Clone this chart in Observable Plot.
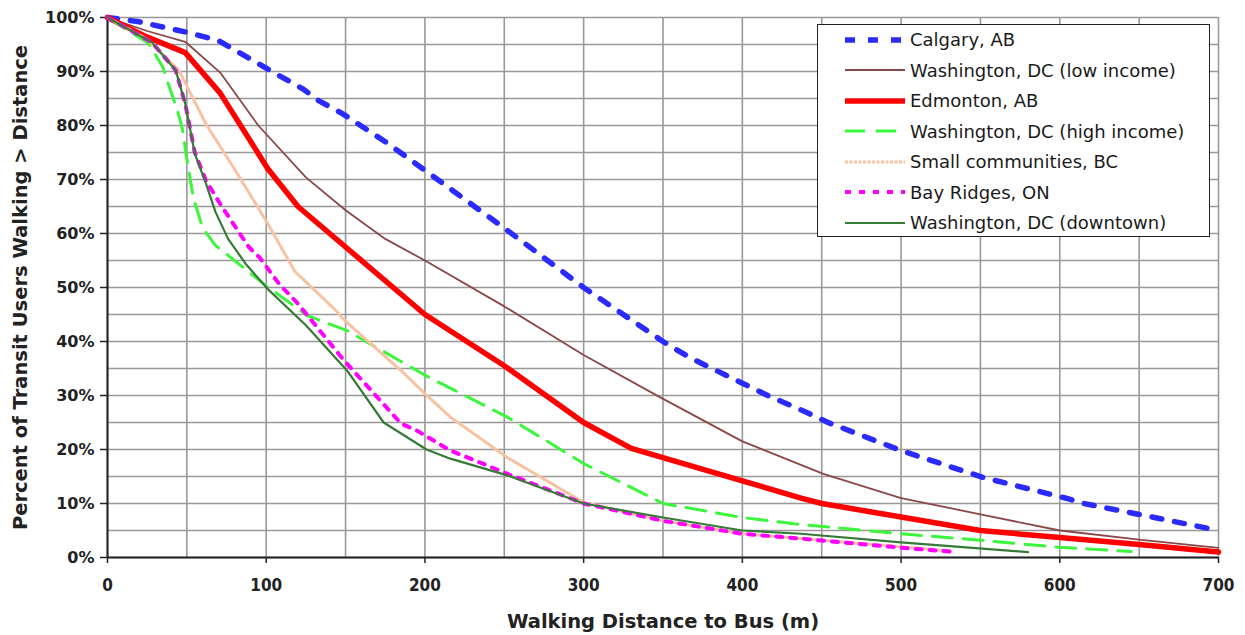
<!DOCTYPE html>
<html><head><meta charset="utf-8">
<script src="https://cdn.jsdelivr.net/npm/d3@7"></script>
<script src="https://cdn.jsdelivr.net/npm/@observablehq/plot@0.6"></script>
<style>
html,body{margin:0;padding:0;background:#fff;overflow:hidden}
#wrap{position:relative;width:1245px;height:635px}
#legend{position:absolute;left:817px;top:24px;width:391px;height:211px;border:1.5px solid #222;background:#fff;font-family:"DejaVu Sans";font-size:18px;color:#1a1a1a}
.row{position:absolute;left:0;height:30px;display:flex;align-items:center;white-space:nowrap}
.row svg{margin-left:27px;margin-right:5px}
</style></head>
<body><div id="wrap"><div id="legend"></div></div>
<script>
// ---- data ----
const seriesNames = ["Calgary, AB","Washington, DC (low income)","Edmonton, AB","Washington, DC (high income)","Small communities, BC","Bay Ridges, ON","Washington, DC (downtown)"];

const calgaryDist = [0,20,37,51,70,92,106,123,133,148,175,200,250,300,350,367,416,435,454,500,552,605,615,653,700];
const calgaryPct  = [100,99.2,98.1,97.2,95.7,92,89.6,86.8,84.6,82.2,77,71.7,61,50,40,37,30,27.6,25,19.8,14.8,10.9,10,7.8,5];

const lowIncDist = [0,25,49,71,95,125,150,175,200,250,300,348,400,451,500,550,600,650,700];
const lowIncPct  = [100,97.5,95.5,89.8,80,70.4,64.3,59,55,46.5,37.5,29.7,21.5,15.5,11,8,5,3.3,1.8];

const edmDist = [0,24,49,71,101,120,150,200,250,300,330,400,437,450,500,550,600,650,700];
const edmPct  = [100,96.5,93.5,86,72,65,57.5,45,35.5,25,20.2,14.2,11,10,7.5,5,3.7,2.4,1];

const highIncDist = [0,26,35,38,44,47,51,54,60,68,80,100,126,151,201,252,300,350,400,437,500,550,600,645];
const highIncPct  = [100,95.2,90.7,88,82.8,79.6,72,66.7,61,57.8,55,50.3,44.8,42,33.6,26,17.4,10,7.4,6.1,4.4,3.2,1.9,1.1];

const smallDist = [0,25,45,62,82,101,118,143,149,185,202,216,252,300,350,400,437,500,531];
const smallPct  = [100,96,90.2,80.3,71,61.8,53,46,44,34.6,29.8,26,18.5,10.2,6.8,4.4,3.5,2,1.2];

const bayDist = [0,28,43,49,55,62,72,89,96,108,120,149,185,195,216,227,252,300,350,400,437,500,531];
const bayPct  = [100,95.4,90.2,84,75,69.8,65,57.5,55.5,50.7,47,36.5,24.8,23.5,19.8,18.5,15.5,10,6.8,4.4,3.5,1.8,1.1];

const downDist = [0,28,43,49,55,62,68,76,87,101,125,151,174,201,216,252,300,350,400,437,500,580];
const downPct  = [100,95.4,90.2,84,74.8,69.3,64,59,54.4,49.7,43,34.6,25,20,18.3,15.2,10,7.4,5,4.4,2.8,1];

const xTicks = [0,100,200,300,400,500,600,700];
const xGrid  = [0,50,100,150,200,250,300,350,400,450,500,550,600,650,700];
const yTicks = [0,10,20,30,40,50,60,70,80,90,100];
const yGrid  = [0,5,10,15,20,25,30,35,40,45,50,55,60,65,70,75,80,85,90,95,100];
const xLabel = "Walking Distance to Bus (m)";
const yLabel = "Percent of Transit Users Walking > Distance";

// ---- build ----
const rawSeries = [
  [calgaryDist, calgaryPct], [lowIncDist, lowIncPct], [edmDist, edmPct],
  [highIncDist, highIncPct], [smallDist, smallPct], [bayDist, bayPct], [downDist, downPct]
];
const styles = [
  {stroke:"#2b2bff", strokeWidth:5.5, strokeDasharray:"10,13"},
  {stroke:"#8a4848", strokeWidth:1.8},
  {stroke:"#ff0000", strokeWidth:5.5},
  {stroke:"#3cf53c", strokeWidth:3, strokeDasharray:"20,11"},
  {stroke:"#f8c2a2", strokeWidth:3, strokeDasharray:"3,1.5"},
  {stroke:"#ff00ff", strokeWidth:4, strokeDasharray:"6,8"},
  {stroke:"#377a37", strokeWidth:2.2}
];
const rows = [];
rawSeries.forEach(([xs, ys], i) => xs.forEach((d, j) => rows.push({series: seriesNames[i], d, p: ys[j]})));

const lineMarks = seriesNames.map((name, i) =>
  Plot.line(rows.filter(r => r.series === name), {x:"d", y:"p", ...styles[i], strokeLinejoin:"round"}));

const gridStyle = {stroke:"#999", strokeOpacity:1, strokeWidth:1.6};
const chart = Plot.plot({
  width:1245, height:635,
  marginTop:17, marginLeft:107, marginRight:27, marginBottom:78,
  x:{domain:[0,700]}, y:{domain:[0,100]},
  style:{fontFamily:"DejaVu Sans", color:"#222", background:"#fff"},
  marks:[
    Plot.gridX(xGrid, gridStyle),
    Plot.gridY(yGrid, gridStyle),
    Plot.axisY(yTicks, {tickFormat:d => d + "%", tickSize:7, tickPadding:6, fontSize:16, fontWeight:"bold", label:null, strokeWidth:1.5}),
    Plot.axisX(xTicks, {tickSize:6, tickPadding:15, fontSize:17, fontWeight:"bold", fontFamily:"DejaVu Sans Condensed", label:null, strokeWidth:1.5}),
    Plot.ruleY([0], {stroke:"#222", strokeWidth:2}),
    Plot.ruleX([0], {stroke:"#222", strokeWidth:2}),
    ...lineMarks,
    Plot.text([yLabel], {frameAnchor:"left", dx:-87, rotate:-90, textAnchor:"middle", lineAnchor:"middle", fontSize:19.5, fontWeight:"bold", fill:"#222"}),
    Plot.text([xLabel], {frameAnchor:"bottom", dy:64, textAnchor:"middle", lineAnchor:"middle", fontSize:19.5, fontWeight:"bold", fill:"#222"})
  ]
});
document.getElementById("wrap").prepend(chart);

// ---- legend ----
const legend = document.getElementById("legend");
seriesNames.forEach((name, i) => {
  const row = document.createElement("div");
  row.className = "row";
  row.style.top = (14.5 + 30.5 * i - 15) + "px";
  const s = styles[i];
  row.innerHTML = `<svg width="60" height="14"><line x1="0" x2="60" y1="7" y2="7" stroke="${s.stroke}" stroke-width="${s.strokeWidth}" ${s.strokeDasharray ? `stroke-dasharray="${s.strokeDasharray}"` : ""}/></svg><span>${name}</span>`;
  legend.appendChild(row);
});
</script>
</body></html>
